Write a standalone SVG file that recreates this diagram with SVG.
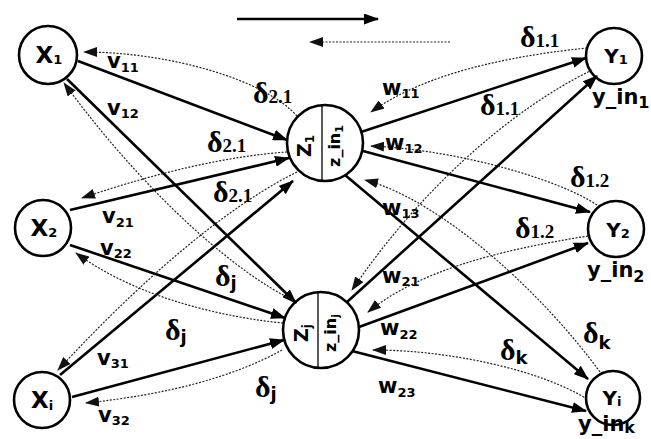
<svg xmlns="http://www.w3.org/2000/svg" width="651" height="439" viewBox="0 0 651 439">
<defs>
<marker id="ah" markerUnits="userSpaceOnUse" markerWidth="15" markerHeight="11" refX="14" refY="5.5" orient="auto"><path d="M0,0 L15,5.5 L0,11 z" fill="#000"/></marker>
<marker id="ahd" markerUnits="userSpaceOnUse" markerWidth="14" markerHeight="10" refX="13" refY="5" orient="auto"><path d="M0,0 L14,5 L0,10 z" fill="#111"/></marker>
</defs>
<style>
.node circle{fill:#fff;stroke:#000;stroke-width:2.6}
.node line{stroke:#000;stroke-width:1.3}
.fwd{fill:none;stroke:#000;stroke-width:2.6;marker-end:url(#ah)}
.bwd{fill:none;stroke:#222;stroke-width:1.2;stroke-dasharray:2 1.5;marker-end:url(#ahd)}
.nt{font-family:"DejaVu Sans",sans-serif;font-weight:bold;fill:#000}
.lbl{font-family:"DejaVu Sans",sans-serif;font-weight:bold;font-size:21px;fill:#000}
.sub{font-size:13px}
.d{font-family:"Liberation Serif",serif;font-weight:bold;font-size:30px;fill:#000}
.dn{font-size:19px}
.ds{font-family:"DejaVu Sans",sans-serif;font-size:18px}
</style>
<rect width="651" height="439" fill="#fff"/>

<g id="legend">
<line class="fwd" x1="237" y1="19" x2="378" y2="19"/>
<line class="bwd" x1="450" y1="42" x2="310" y2="42"/>
</g>

<g id="X1" class="node"><circle cx="48" cy="55" r="29"/><text class="nt" x="49" y="63" font-size="23" text-anchor="middle">X<tspan font-size="13" dy="1">1</tspan></text></g>
<g id="X2" class="node"><circle cx="43" cy="228" r="28"/><text class="nt" x="44" y="236" font-size="23" text-anchor="middle">X<tspan font-size="13" dy="1">2</tspan></text></g>
<g id="Xi" class="node"><circle cx="42" cy="400" r="28"/><text class="nt" x="42" y="408" font-size="23" text-anchor="middle">X<tspan font-size="13" dy="2">i</tspan></text></g>

<g id="Z1" class="node"><circle cx="325" cy="143" r="38"/><line x1="322" y1="105" x2="322" y2="181"/>
<text class="nt" transform="translate(311,146) rotate(-90)" font-size="19" text-anchor="middle">Z<tspan font-size="12" dy="3">1</tspan></text>
<text class="nt" transform="translate(340,146) rotate(-90)" font-size="16" text-anchor="middle">z_in<tspan font-size="11" dy="3">1</tspan></text></g>
<g id="Zj" class="node"><circle cx="321" cy="330" r="38"/><line x1="318" y1="292" x2="318" y2="368"/>
<text class="nt" transform="translate(308,333) rotate(-90)" font-size="19" text-anchor="middle">Z<tspan font-size="12" dy="3">j</tspan></text>
<text class="nt" transform="translate(336,333) rotate(-90)" font-size="16" text-anchor="middle">z_in<tspan font-size="11" dy="3">j</tspan></text></g>

<g id="Y1" class="node"><circle cx="614" cy="56" r="28"/><text class="nt" x="616" y="63" font-size="20" text-anchor="middle">Y<tspan font-size="13" dy="1">1</tspan></text></g>
<g id="Y2" class="node"><circle cx="616" cy="229" r="28"/><text class="nt" x="618" y="237" font-size="20" text-anchor="middle">Y<tspan font-size="13" dy="1">2</tspan></text></g>
<g id="Yi" class="node"><circle cx="613" cy="398" r="27"/><text class="nt" x="612" y="405" font-size="20" text-anchor="middle">Y<tspan font-size="13" dy="1">i</tspan></text></g>

<g id="connectors">
<path class="fwd" d="M78,61 L287,140"/>
<path class="fwd" d="M67,79 L296,303"/>
<path class="fwd" d="M70,210 L289,158"/>
<path class="fwd" d="M70,245 L285,318"/>
<path class="fwd" d="M60,375 L293,181"/>
<path class="fwd" d="M72,397 L284,340"/>
<path class="fwd" d="M361,132 L586,58"/>
<path class="fwd" d="M363,151 L590,212"/>
<path class="fwd" d="M345,175 L588,379"/>
<path class="fwd" d="M347,302 L597,76"/>
<path class="fwd" d="M359,327 L588,243"/>
<path class="fwd" d="M352,351 L586,411"/>

<path class="bwd" d="M297,116 C265,80 170,52 84,52"/>
<path class="bwd" d="M287,152 Q200,158 82,198"/>
<path class="bwd" d="M297,172 C240,200 160,260 58,370"/>
<path class="bwd" d="M293,300 C240,275 150,200 64,83"/>
<path class="bwd" d="M283,323 C230,318 140,300 76,253"/>
<path class="bwd" d="M282,350 Q210,390 86,403"/>
<path class="bwd" d="M587,48 C520,55 430,70 371,112"/>
<path class="bwd" d="M592,70 C510,110 420,190 352,290"/>
<path class="bwd" d="M597,205 C560,180 460,150 371,146"/>
<path class="bwd" d="M588,236 C500,250 420,270 368,312"/>
<path class="bwd" d="M600,372 C540,290 440,200 365,180"/>
<path class="bwd" d="M587,399 C540,370 450,350 373,350"/>
</g>

<g id="labels">
<text class="lbl" x="107" y="68">v<tspan class="sub" dy="4">11</tspan></text>
<text class="lbl" x="107" y="115">v<tspan class="sub" dy="3">12</tspan></text>
<text class="lbl" x="102" y="223">v<tspan class="sub" dy="4">21</tspan></text>
<text class="lbl" x="100" y="255">v<tspan class="sub" dy="3">22</tspan></text>
<text class="lbl" x="97" y="365">v<tspan class="sub" dy="3">31</tspan></text>
<text class="lbl" x="98" y="422">v<tspan class="sub" dy="3">32</tspan></text>
<text class="lbl" x="382" y="95">w<tspan class="sub" dy="3">11</tspan></text>
<text class="lbl" x="385" y="150">w<tspan class="sub" dy="3">12</tspan></text>
<text class="lbl" x="382" y="215">w<tspan class="sub" dy="3">13</tspan></text>
<text class="lbl" x="382" y="283">w<tspan class="sub" dy="3">21</tspan></text>
<text class="lbl" x="380" y="335">w<tspan class="sub" dy="4">22</tspan></text>
<text class="lbl" x="378" y="393">w<tspan class="sub" dy="4">23</tspan></text>

<text class="d" x="253" y="103">δ<tspan class="dn">2.1</tspan></text>
<text class="d" x="207" y="152">δ<tspan class="dn">2.1</tspan></text>
<text class="d" x="213" y="202">δ<tspan class="dn">2.1</tspan></text>
<text class="d" x="215" y="286">δ<tspan class="ds" dy="3">j</tspan></text>
<text class="d" x="165" y="340">δ<tspan class="ds" dy="3">j</tspan></text>
<text class="d" x="255" y="397">δ<tspan class="ds" dy="3">j</tspan></text>
<text class="d" x="520" y="47">δ<tspan class="dn">1.1</tspan></text>
<text class="d" x="480" y="115">δ<tspan class="dn">1.1</tspan></text>
<text class="d" x="570" y="187">δ<tspan class="dn">1.2</tspan></text>
<text class="d" x="515" y="238">δ<tspan class="dn">1.2</tspan></text>
<text class="d" x="583" y="343">δ<tspan class="ds" dy="6">k</tspan></text>
<text class="d" x="500" y="360">δ<tspan class="ds" dy="4">k</tspan></text>

<text class="lbl" x="592" y="104">y_in<tspan font-size="16" dy="4">1</tspan></text>
<text class="lbl" x="587" y="277">y_in<tspan font-size="16" dy="5">2</tspan></text>
<text class="lbl" x="578" y="431">y_in<tspan font-size="16" dy="2">k</tspan></text>
</g>
</svg>
